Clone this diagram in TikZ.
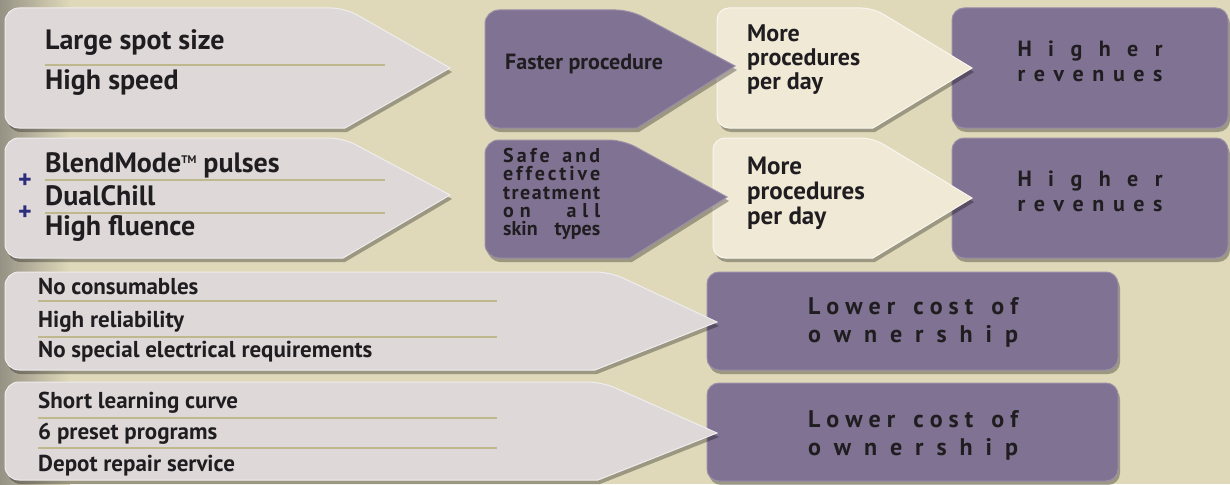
\documentclass[tikz,border=0pt]{standalone}
\usepackage{fontspec}
\setmainfont{PT Sans}
\usetikzlibrary{shadows}

\definecolor{bgbeige}{RGB}{223,217,186}
\definecolor{bggray}{RGB}{150,146,132}
\definecolor{lightgrey}{RGB}{222,216,217}
\definecolor{purplebox}{RGB}{128,114,146}
\definecolor{creambox}{RGB}{240,233,214}
\definecolor{sepline}{RGB}{190,184,140}
\definecolor{plusblue}{RGB}{45,45,125}
\definecolor{darktext}{RGB}{32,29,32}

% letters spread over a fixed width
\newcommand\spread[2]{\hbox to #1{\spaceskip=0pt plus 1fil\relax #2}}

\tikzset{
  boxshadow/.style={drop shadow={shadow xshift=2pt,shadow yshift=-4pt,fill=black,opacity=.3}},
  lightbox/.style={fill=lightgrey,draw=white!55!lightgrey,line width=1pt,boxshadow},
  purplebox/.style={fill=purplebox,draw=purplebox!80!white,line width=1pt,boxshadow},
  creambox/.style={fill=creambox,draw=white!60!creambox,line width=1pt,boxshadow},
  sepline/.style={draw=sepline,line width=2.5pt},
  itemtext/.style={anchor=base west,inner sep=0pt,text=darktext,font=\fontsize{28}{30}\selectfont\bfseries},
  listtext/.style={itemtext,font=\fontsize{23}{26}\selectfont\bfseries},
  plustext/.style={inner sep=0pt,text=plusblue,font=\fontsize{26}{26}\selectfont\bfseries},
  spacedtext/.style={anchor=north,inner sep=0pt,align=center,text=darktext,font=\fontsize{22}{25}\selectfont\bfseries}
}

\begin{document}
\begin{tikzpicture}[x=1pt,y=-1pt]

        \useasboundingbox (0,0) rectangle (1230,484);
        \fill[bgbeige] (0,0) rectangle (1230,484);
        \shade[left color=bggray,right color=bgbeige] (0,0) rectangle (70,484);

        % row 1
        \draw[purplebox,rounded corners=12] (952,8) rectangle (1228,128);
        \draw[creambox] (972,68) -- (873,128) [rounded corners=12] -- (717,128) -- (717,8) -- (873,8) [sharp corners] -- cycle;
        \draw[purplebox] (735,66) -- (637,128) [rounded corners=14] -- (485,128) -- (485,10) -- (630,10) [sharp corners] -- cycle;
        \draw[lightbox] (450,68) -- (345,128) [rounded corners=14] -- (5,128) -- (5,8) -- (345,8) [sharp corners] -- cycle;
        \draw[sepline] (45,65) -- (385,65);

        \node[itemtext] (spot) at (45,50) {Large spot size};
        \node[itemtext] (speed) at (45,90) {High speed};
        \node[itemtext,font=\fontsize{22}{24}\selectfont\bfseries] (faster) at (505,70) {Faster procedure};
        \node[itemtext,anchor=north west,align=left,font=\fontsize{24}{24}\selectfont\bfseries] (moreA) at (747,25) {More\\procedures\\per day};
        \node[spacedtext] (revA) at (1090,41) {\spread{145pt}{H i g h e r}\\\spread{145pt}{r e v e n u e s}};

        % row 2
        \draw[purplebox,rounded corners=12] (952,138) rectangle (1228,258);
        \draw[creambox] (972,198) -- (873,258) [rounded corners=12] -- (713,258) -- (713,138) -- (873,138) [sharp corners] -- cycle;
        \draw[purplebox] (727,197) -- (630,258) [rounded corners=14] -- (485,258) -- (485,140) -- (623,140) [sharp corners] -- cycle;
        \draw[lightbox] (450,195) -- (343,258) [rounded corners=14] -- (5,258) -- (5,138) -- (343,138) [sharp corners] -- cycle;
        \draw[sepline] (45,180) -- (385,180);
        \draw[sepline] (45,213) -- (385,213);

        \node[plustext] (plusA) at (25,181) {+};
        \node[plustext] (plusB) at (25,213) {+};
        \node[itemtext] (blend) at (45,172) {BlendMode{\fontsize{11}{11}\selectfont\raisebox{9pt}{TM}} pulses};
        \node[itemtext] (chill) at (45,205) {DualChill};
        \node[itemtext] (fluence) at (45,235) {High fluence};
        \node[itemtext,anchor=north west,align=left,font=\fontsize{20}{18.3}\selectfont\bfseries] (safe) at (503,148)
            {\spread{97pt}{S a f e \ \ \ a n d}\\\spread{97pt}{e f f e c t i v e}\\\spread{97pt}{t r e a t m e n t}\\
             \spread{97pt}{o n \ \ \ \ \ a l l}\\\spread{97pt}{skin types}};
        \node[itemtext,anchor=north west,align=left,font=\fontsize{25}{25}\selectfont\bfseries] (moreB) at (747,157) {More\\procedures\\per day};
        \node[spacedtext] (revB) at (1090,171) {\spread{145pt}{H i g h e r}\\\spread{145pt}{r e v e n u e s}};

        % row 3
        \draw[purplebox,rounded corners=12] (707,272) rectangle (1118,370);
        \draw[lightbox] (717,322) -- (595,370) [rounded corners=14] -- (5,370) -- (5,272) -- (610,272) [sharp corners] -- cycle;
        \draw[sepline] (38,301) -- (497,301);
        \draw[sepline] (38,337) -- (497,337);

        \node[listtext] (consum) at (38,294) {No consumables};
        \node[listtext] (reliab) at (38,327) {High reliability};
        \node[listtext] (electric) at (38,357) {No special electrical requirements};
        \node[spacedtext,font=\fontsize{24}{28.5}\selectfont\bfseries] (costA) at (913,297) {\spread{210pt}{L o w e r \ \ c o s t \ \ o f}\\\spread{210pt}{o w n e r s h i p}};

        % row 4
        \draw[purplebox,rounded corners=12] (707,383) rectangle (1118,481);
        \draw[lightbox] (717,433) -- (598,480) [rounded corners=14] -- (5,480) -- (5,382) -- (602,382) [sharp corners] -- cycle;
        \draw[sepline] (38,418) -- (497,418);
        \draw[sepline] (38,448) -- (497,448);

        \node[listtext] (learn) at (38,408) {Short learning curve};
        \node[listtext] (preset) at (38,439) {6 preset programs};
        \node[listtext] (depot) at (38,471) {Depot repair service};
        \node[spacedtext,font=\fontsize{24}{28.5}\selectfont\bfseries] (costB) at (913,410) {\spread{210pt}{L o w e r \ \ c o s t \ \ o f}\\\spread{210pt}{o w n e r s h i p}};

\end{tikzpicture}
\end{document}
